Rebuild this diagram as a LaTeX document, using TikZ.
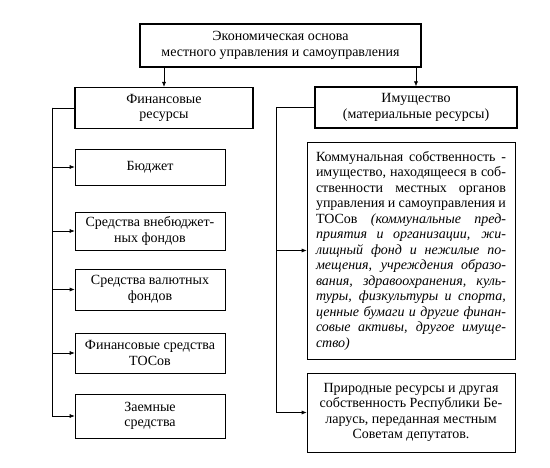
\documentclass[tikz,border=0pt]{standalone}
\usepackage{fontspec}
\setmainfont{Liberation Serif}
\usepackage{tikz}
\usetikzlibrary{arrows.meta,calc,positioning}
\newcommand{\jline}[1]{\makebox[190pt][s]{#1}}
\tikzset{
    rootbox/.style={
        rectangle,
        draw=black,
        line width=1.6pt,
        minimum width=281pt,
        minimum height=43pt,
        inner sep=2pt,
        align=center
    },
    groupbox/.style={
        rectangle,
        draw=black,
        line width=1.2pt,
        minimum height=41pt,
        inner sep=2pt,
        align=center
    },
    itembox/.style={
        rectangle,
        draw=black,
        line width=0.6pt,
        minimum width=150pt,
        inner sep=2pt,
        align=center
    },
    arrow/.style={
        -{Latex[length=5pt,width=4pt]},
        line width=0.6pt
    },
    spine/.style={
        line width=0.6pt
    }
}

\begin{document}
\begin{tikzpicture}[x=1pt, y=-1pt, font=\fontsize{14}{15.5}\selectfont]
    \useasboundingbox (0,0) rectangle (550,468);

    % Root
    \node[rootbox] (root) at (280.5,45.5) {Экономическая основа\\местного управления и самоуправления};

    % Two groups
    \node[groupbox, minimum width=178pt] (finance) at (164,108) {Финансовые\\ресурсы};
    \node[groupbox, minimum width=202pt] (property) at (416,107.5) {Имущество\\(материальные ресурсы)};

    \draw[arrow] (root.south -| finance.north) -- (finance.north);
    \draw[arrow] (root.south -| property.north) -- (property.north);

    % Financial resources
    \node[itembox, minimum height=36pt] (budget) at (150,167) {Бюджет};
    \node[itembox, minimum height=38pt] (offbudget) at (150,231) {Средства внебюджет-\\ных фондов};
    \node[itembox, minimum height=41pt] (currency) at (150,289.5) {Средства валютных\\фондов};
    \node[itembox, minimum height=40pt] (tosfunds) at (150,353) {Финансовые средства\\ТОСов};
    \node[itembox, minimum height=44pt] (loans) at (150,416) {Заемные\\средства};

    \coordinate (finspine) at (52,108);
    \draw[spine] (finance.west) -- (finspine);
    \foreach \item in {budget, offbudget, currency, tosfunds, loans}
        \draw[arrow] (finspine) |- (\item.west);

    % Property
    \node[itembox, minimum width=208pt, minimum height=205pt, inner sep=9pt, align=left] (communal) at (411,250.5) {%
        \jline{Коммунальная собственность -}\\
        \jline{имущество, находящееся в соб-}\\
        \jline{ственности местных органов}\\
        \jline{управления и самоуправления и}\\
        \jline{ТОСов \textit{(коммунальные пред-}}\\
        \jline{\textit{приятия и организации, жи-}}\\
        \jline{\textit{лищный фонд и нежилые по-}}\\
        \jline{\textit{мещения, учреждения образо-}}\\
        \jline{\textit{вания, здравоохранения, куль-}}\\
        \jline{\textit{туры, физкультуры и спорта,}}\\
        \jline{\textit{ценные бумаги и другие финан-}}\\
        \jline{\textit{совые активы, другое имуще-}}\\
        \textit{ство)}};
    \node[itembox, minimum width=208pt, minimum height=79pt] (natural) at (411,412.5) {Природные ресурсы и другая\\собственность Республики Бе-\\ларусь, переданная местным\\Советам депутатов.};

    \coordinate (propspine) at (276,107.5);
    \draw[spine] (property.west) -- (propspine);
    \draw[arrow] (propspine) |- (communal.west);
    \draw[arrow] (propspine) |- (natural.west);
\end{tikzpicture}
\end{document}
